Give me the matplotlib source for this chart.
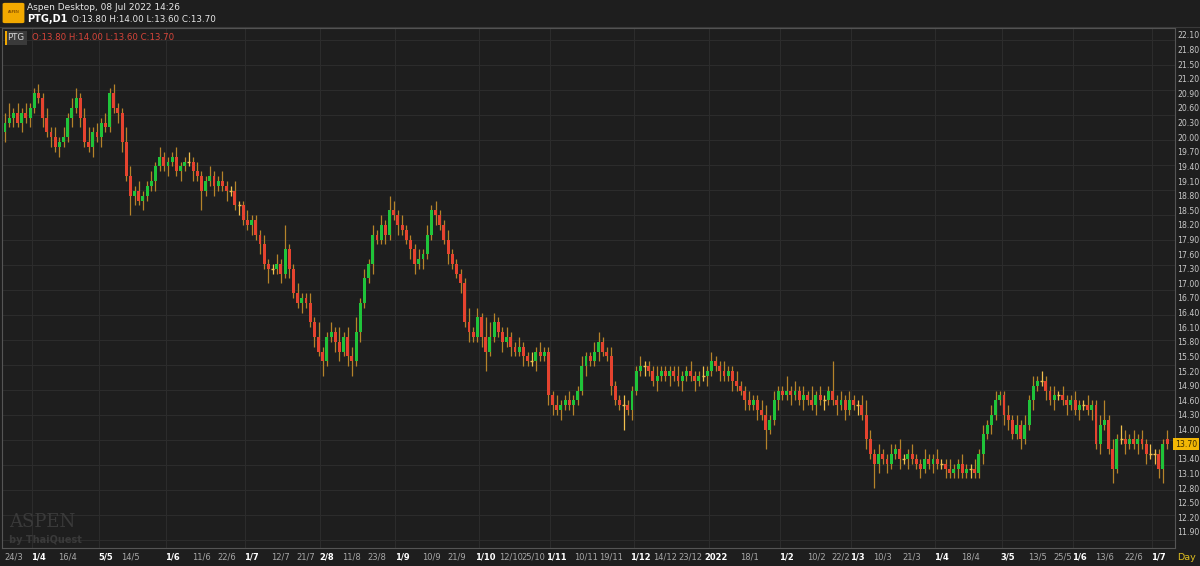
import matplotlib
matplotlib.use("Agg")
import matplotlib.pyplot as plt
from matplotlib.patches import Rectangle, FancyBboxPatch
import matplotlib.transforms as mtransforms

closes = [20.3,20.4,20.5,20.3,20.5,20.4,20.6,20.9,20.8,20.4,
20.1,20.0,19.8,19.9,20.0,20.4,20.6,20.8,20.4,19.9,
19.8,20.1,20.0,20.3,20.2,20.9,20.6,20.5,19.9,19.2,
18.8,18.9,18.7,18.8,19.0,19.1,19.4,19.6,19.4,19.5,
19.6,19.3,19.4,19.5,19.5,19.3,19.2,18.9,19.1,19.2,
19.0,19.1,19.0,18.9,18.9,18.6,18.6,18.3,18.2,18.3,
18.0,17.8,17.4,17.3,17.3,17.4,17.2,17.7,17.3,16.8,
16.6,16.7,16.6,16.2,15.9,15.6,15.4,15.9,16.0,15.8,
15.6,15.9,15.5,15.4,16.0,16.6,17.1,17.4,18.0,17.9,
18.2,18.0,18.5,18.4,18.2,18.1,17.9,17.7,17.4,17.5,
17.6,18.0,18.5,18.4,18.2,17.9,17.6,17.4,17.2,17.0,
16.2,16.0,15.9,16.3,15.9,15.6,15.9,16.2,16.0,15.8,
15.9,15.7,15.6,15.7,15.5,15.4,15.4,15.6,15.5,15.6,
14.7,14.5,14.4,14.5,14.6,14.5,14.6,14.8,15.3,15.5,
15.4,15.6,15.8,15.6,15.5,14.9,14.6,14.5,14.5,14.4,
14.8,15.2,15.3,15.3,15.2,15.0,15.1,15.2,15.1,15.2,
15.1,15.0,15.1,15.2,15.1,15.0,15.1,15.1,15.2,15.4,
15.3,15.2,15.1,15.2,15.0,14.9,14.8,14.6,14.5,14.6,
14.4,14.3,14.0,14.2,14.6,14.8,14.7,14.8,14.7,14.8,
14.6,14.7,14.6,14.5,14.7,14.6,14.6,14.8,14.6,14.5,
14.6,14.4,14.6,14.5,14.5,14.3,13.8,13.5,13.3,13.5,
13.4,13.3,13.5,13.6,13.4,13.4,13.5,13.4,13.3,13.2,
13.4,13.3,13.4,13.3,13.3,13.2,13.1,13.2,13.3,13.1,
13.2,13.2,13.1,13.5,13.9,14.1,14.3,14.6,14.7,14.3,
14.2,13.9,14.1,13.8,14.1,14.6,14.9,15.0,15.0,14.8,
14.6,14.7,14.7,14.6,14.5,14.6,14.4,14.5,14.5,14.4,
14.5,13.7,14.1,14.2,13.6,13.2,13.8,13.8,13.7,13.8,
13.7,13.8,13.7,13.5,13.5,13.5,13.2,13.7,13.7]

opens = [20.1,20.3,20.4,20.5,20.3,20.5,20.4,20.6,20.9,20.8,
20.4,20.1,20.0,19.8,19.9,20.0,20.4,20.6,20.8,20.4,
19.9,19.8,20.1,20.0,20.3,20.2,20.9,20.6,20.5,19.9,
19.2,18.8,18.9,18.7,18.8,19.0,19.1,19.4,19.6,19.4,
19.5,19.6,19.3,19.4,19.5,19.5,19.3,19.2,18.9,19.1,
19.2,19.0,19.1,19.0,18.9,18.9,18.6,18.6,18.3,18.2,
18.3,18.0,17.8,17.4,17.3,17.3,17.4,17.2,17.7,17.3,
16.8,16.6,16.7,16.6,16.2,15.9,15.6,15.4,15.9,16.0,
15.8,15.6,15.9,15.5,15.4,16.0,16.6,17.1,17.4,18.0,
17.9,18.2,18.0,18.5,18.4,18.2,18.1,17.9,17.7,17.4,
17.5,17.6,18.0,18.5,18.4,18.2,17.9,17.6,17.4,17.2,
17.0,16.2,16.0,15.9,16.3,15.9,15.6,15.9,16.2,16.0,
15.8,15.9,15.7,15.6,15.7,15.5,15.4,15.4,15.6,15.5,
15.6,14.7,14.5,14.4,14.5,14.6,14.5,14.6,14.8,15.3,
15.5,15.4,15.6,15.8,15.6,15.5,14.9,14.6,14.5,14.5,
14.4,14.8,15.2,15.3,15.3,15.2,15.0,15.1,15.2,15.1,
15.2,15.1,15.0,15.1,15.2,15.1,15.0,15.1,15.1,15.2,
15.4,15.3,15.2,15.1,15.2,15.0,14.9,14.8,14.6,14.5,
14.6,14.4,14.3,14.0,14.2,14.6,14.8,14.7,14.8,14.7,
14.8,14.6,14.7,14.6,14.5,14.7,14.6,14.6,14.8,14.6,
14.5,14.6,14.4,14.6,14.5,14.5,14.3,13.8,13.5,13.3,
13.5,13.4,13.3,13.5,13.6,13.4,13.4,13.5,13.4,13.3,
13.2,13.4,13.3,13.4,13.3,13.3,13.2,13.1,13.2,13.3,
13.1,13.2,13.2,13.1,13.5,13.9,14.1,14.3,14.6,14.7,
14.3,14.2,13.9,14.1,13.8,14.1,14.6,14.9,15.0,15.0,
14.8,14.6,14.7,14.7,14.6,14.5,14.6,14.4,14.5,14.5,
14.4,14.5,13.7,14.1,14.2,13.6,13.2,13.8,13.8,13.7,
13.8,13.7,13.8,13.7,13.5,13.5,13.5,13.2,13.8]

upper_wick = [.2,.3,.1,.2,.1,.2,.1,.1,.2,.1,
.2,.1,.2,.1,.2,.1,.2,.2,.1,.2,
.3,.1,.2,.1,.2,.1,.2,.1,.1,.3,
.2,.1,.2,.1,.1,.2,.1,.2,.1,.1,
.1,.2,.1,.1,.2,.1,.2,.1,.1,.2,
.1,.1,.2,.1,.1,.2,.1,.1,.2,.1,
.1,.1,.2,.1,.1,.2,.1,.5,.1,.1,
.2,.1,.1,.2,.1,.3,.1,.1,.2,.1,
.3,.1,.2,.2,.3,.1,.2,.1,.2,.1,
.2,.1,.3,.2,.1,.2,.1,.1,.1,.2,
.1,.2,.1,.2,.1,.1,.2,.1,.1,.1,
.1,.3,.1,.2,.1,.4,.3,.2,.1,.1,
.2,.1,.1,.2,.1,.1,.2,.1,.2,.1,
.1,.1,.2,.1,.1,.2,.1,.1,.2,.1,
.1,.2,.2,.1,.1,.2,.1,.1,.2,.1,
.1,.1,.2,.1,.1,.1,.2,.1,.1,.1,
.1,.2,.1,.1,.2,.1,.1,.2,.1,.2,
.1,.1,.2,.1,.1,.2,.1,.1,.2,.1,
.1,.2,.2,.1,.2,.1,.1,.3,.1,.2,
.1,.2,.1,.3,.1,.2,.1,.1,.6,.1,
.2,.1,.2,.1,.1,.2,.3,.2,.1,.2,
.1,.1,.2,.1,.2,.1,.1,.2,.1,.1,
.2,.1,.1,.2,.1,.1,.2,.1,.1,.2,
.1,.1,.2,.1,.2,.1,.2,.2,.1,.1,
.2,.1,.2,.1,.2,.1,.2,.1,.2,.1,
.1,.2,.1,.2,.1,.1,.2,.1,.1,.2,
.1,.1,.2,.4,.1,.2,.1,.3,.2,.1,
.2,.1,.2,.1,.2,.1,.1,.1,.2]

lower_wick = [.2,.1,.2,.1,.2,.1,.2,.1,.1,.2,
.1,.2,.1,.2,.1,.1,.2,.1,.2,.1,
.1,.2,.1,.2,.1,.1,.1,.2,.2,.1,
.4,.2,.1,.2,.1,.1,.2,.1,.1,.2,
.1,.1,.2,.1,.1,.2,.1,.4,.1,.1,
.2,.1,.1,.2,.1,.1,.2,.1,.1,.2,
.1,.2,.1,.3,.1,.1,.2,.1,.2,.1,
.1,.2,.1,.1,.2,.1,.3,.1,.1,.2,
.2,.1,.2,.3,.1,.2,.1,.1,.2,.1,
.1,.2,.1,.1,.2,.1,.1,.2,.2,.1,
.2,.1,.1,.2,.1,.1,.2,.1,.1,.2,
.1,.2,.1,.1,.2,.4,.1,.1,.1,.2,
.1,.2,.1,.1,.2,.1,.1,.2,.1,.1,
.2,.2,.1,.2,.1,.1,.2,.1,.1,.2,
.1,.1,.2,.1,.1,.2,.1,.1,.5,.1,
.2,.1,.1,.2,.1,.1,.2,.1,.1,.2,
.1,.1,.2,.1,.1,.2,.1,.1,.2,.1,
.1,.2,.1,.1,.2,.1,.1,.2,.1,.1,
.2,.1,.4,.1,.1,.2,.1,.1,.2,.1,
.1,.2,.1,.1,.2,.1,.2,.1,.1,.2,
.1,.2,.1,.1,.2,.1,.2,.1,.5,.2,
.1,.2,.1,.1,.2,.1,.2,.1,.1,.2,
.1,.1,.2,.1,.1,.2,.1,.1,.2,.1,
.1,.2,.1,.1,.2,.1,.2,.1,.1,.2,
.2,.1,.1,.2,.1,.1,.2,.1,.1,.2,
.1,.2,.1,.1,.2,.1,.1,.2,.1,.1,
.2,.1,.2,.1,.1,.3,.1,.1,.2,.1,
.1,.2,.1,.2,.1,.2,.2,.3,.1]

highs = [max(o, c) + u for o, c, u in zip(opens, closes, upper_wick)]
lows = [min(o, c) - d for o, c, d in zip(opens, closes, lower_wick)]

xtick_pos = [2, 8, 15, 24, 30, 40, 47, 53, 59, 66, 72, 77, 83, 89, 95, 102, 108, 115, 121, 126.5,
             132, 139, 145, 152, 158, 164, 170, 178, 187, 194, 200, 204, 210, 217, 224, 231,
             240, 247, 253, 257, 263, 270, 276]
xtick_labels = ["24/3", "1/4", "16/4", "5/5", "14/5", "1/6", "11/6", "22/6", "1/7", "12/7", "21/7",
                "2/8", "11/8", "23/8", "1/9", "10/9", "21/9", "1/10", "12/10", "25/10", "1/11",
                "10/11", "19/11", "1/12", "14/12", "23/12", "2022", "18/1", "1/2", "10/2", "22/2",
                "1/3", "10/3", "21/3", "1/4", "18/4", "3/5", "13/5", "25/5", "1/6", "13/6", "22/6", "1/7"]
major_labels = {"1/4", "5/5", "1/6", "1/7", "2/8", "1/9", "1/10", "1/11", "1/12", "2022",
                "1/2", "1/3", "3/5"}
ytick_vals = [round(11.9 + 0.3 * k, 2) for k in range(35)]

BG = "#1e1e1e"
GRID = "#2c2c2c"
GREEN = "#1fc43a"
RED = "#e5432f"
WICK = "#b5832a"
DOJI = "#f2c14e"

W, H = 1200, 566
fig = plt.figure(figsize=(W / 100, H / 100), dpi=100, facecolor=BG)
ax = fig.add_axes([2 / W, 1 - 548 / H, 1173 / W, 520 / H], facecolor=BG)

n = len(closes)
bw = 0.7
for i in range(n):
    o, c, h, l = opens[i], closes[i], highs[i], lows[i]
    if c > o:
        col = GREEN
    elif c < o:
        col = RED
    else:
        col = DOJI
    ax.vlines(i, l, h, color=(DOJI if col == DOJI else WICK), lw=0.9, zorder=2)
    if c == o:
        ax.hlines(o, i - bw / 2, i + bw / 2, color=DOJI, lw=1.0, zorder=3)
    else:
        ax.add_patch(Rectangle((i - bw / 2, min(o, c)), bw, abs(c - o), facecolor=col,
                               edgecolor="none", zorder=3))

ax.set_xlim(-0.72, 279.9)
ax.set_ylim(11.57, 22.24)
ax.set_xticks([])
ax.set_yticks(ytick_vals)
ax.yaxis.tick_right()
ax.tick_params(axis="y", length=0, labelsize=5.6, colors="#c9c9c9", pad=1.5)
ax.set_yticklabels([("" if abs(v - closes[-1]) < 1e-6 else f"{v:.2f}") for v in ytick_vals])
for s in ax.spines.values():
    s.set_color("#555555")
    s.set_linewidth(0.8)

ppu = 497 / (22.10 - 11.90)
for k in range(21):
    ax.axhline(22.10 - (5 + 25 * k) / ppu, color=GRID, lw=0.8, zorder=0)
for p, lab in zip(xtick_pos, xtick_labels):
    if lab in major_labels:
        ax.axvline(p - 1.6, color=GRID, lw=0.8, zorder=0)

trans = mtransforms.blended_transform_factory(ax.transData, fig.transFigure)
for p, lab in zip(xtick_pos, xtick_labels):
    major = lab in major_labels
    ax.text(p, 1 - 557 / H, lab, transform=trans, ha="center", va="center", fontsize=6.0,
            color=("#ffffff" if major else "#a8a8a8"), fontweight=("bold" if major else "normal"))
fig.text(1186 / W, 1 - 557 / H, "Day", ha="center", va="center", fontsize=6.8, color="#e0c020")

ytr = mtransforms.blended_transform_factory(fig.transFigure, ax.transData)
fig.text(1186 / W, closes[-1], f"{closes[-1]:.2f}", transform=ytr, ha="center", va="center",
         fontsize=5.6, color="#3a2a00",
         bbox=dict(boxstyle="square,pad=0.2", fc="#f2b705", ec="none"))

fig.patches.append(FancyBboxPatch((5 / W, 1 - 22 / H), 17 / W, 18 / H, boxstyle="round,pad=0.002",
                                  transform=fig.transFigure, fc="#f2a900", ec="none"))
fig.text(13.5 / W, 1 - 12 / H, "ASPEN", fontsize=2.5, color="#5a2a00", ha="center", va="center")
fig.text(27 / W, 1 - 8 / H, "Aspen Desktop, 08 Jul 2022 14:26", fontsize=6.5, color="#e8e8e8",
         va="center", ha="left")
fig.text(27 / W, 1 - 19 / H, "PTG,D1", fontsize=7, color="#ffffff", fontweight="bold",
         va="center", ha="left")
fig.text(72 / W, 1 - 19 / H, "O:13.80 H:14.00 L:13.60 C:13.70", fontsize=6.3, color="#e8e8e8",
         va="center", ha="left")
fig.lines.append(plt.Line2D([0, 1], [1 - 27 / H, 1 - 27 / H], transform=fig.transFigure,
                            color="#3a3a3a", lw=0.8))

fig.patches.append(Rectangle((5 / W, 1 - 45 / H), 22 / W, 14 / H, transform=fig.transFigure,
                             fc="#3a3a3a", ec="none"))
fig.patches.append(Rectangle((5 / W, 1 - 45 / H), 1.5 / W, 14 / H, transform=fig.transFigure,
                             fc="#f2a900", ec="none"))
fig.text(16 / W, 1 - 38 / H, "PTG", fontsize=6.2, color="#d8d8d8", ha="center", va="center")
fig.text(32 / W, 1 - 38 / H, "O:13.80 H:14.00 L:13.60 C:13.70", fontsize=6.2, color="#d9453a",
         ha="left", va="center")

fig.text(9 / W, 1 - 522 / H, "ASPEN", fontsize=13, color="#3a3a3a", family="DejaVu Serif",
         ha="left", va="center")
fig.text(9 / W, 1 - 540 / H, "by ThaiQuest", fontsize=7, color="#3a3a3a", fontweight="bold",
         ha="left", va="center")

fig.savefig("out.png", dpi=100, facecolor=BG)
